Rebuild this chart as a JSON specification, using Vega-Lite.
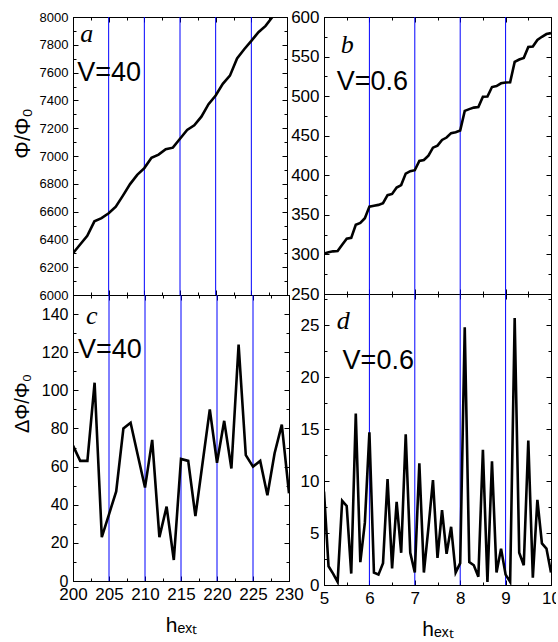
{
  "$schema": "https://vega.github.io/schema/vega-lite/v6.json",
  "autosize": {"type": "pad"},
  "padding": {"left": 10, "top": -2, "right": -5, "bottom": 3},
  "background": "white",
  "config": {
    "view": {"stroke": "black", "strokeWidth": 1},
    "axis": {"grid": false, "domainColor": "black", "domainWidth": 1, "tickColor": "black", "tickWidth": 1, "labelColor": "black", "titleColor": "black", "labelFont": "Liberation Sans", "titleFont": "Liberation Sans", "titleFontWeight": "normal", "labelFlush": false, "labelOverlap": false, "labelBound": false}
  },
  "datasets": {
    "a": [
      {"h": 200, "phi": 6300}, {"h": 201, "phi": 6363}, {"h": 202, "phi": 6426}, {"h": 203, "phi": 6530},
      {"h": 204, "phi": 6553}, {"h": 205, "phi": 6588}, {"h": 206, "phi": 6635}, {"h": 207, "phi": 6715},
      {"h": 208, "phi": 6798}, {"h": 209, "phi": 6864}, {"h": 210, "phi": 6913}, {"h": 211, "phi": 6987},
      {"h": 212, "phi": 7010}, {"h": 213, "phi": 7049}, {"h": 214, "phi": 7060}, {"h": 215, "phi": 7124},
      {"h": 216, "phi": 7187}, {"h": 217, "phi": 7221}, {"h": 218, "phi": 7283}, {"h": 219, "phi": 7373},
      {"h": 220, "phi": 7435}, {"h": 221, "phi": 7519}, {"h": 222, "phi": 7578}, {"h": 223, "phi": 7702},
      {"h": 224, "phi": 7768}, {"h": 225, "phi": 7828}, {"h": 226, "phi": 7891}, {"h": 227, "phi": 7936},
      {"h": 228, "phi": 8003}, {"h": 229, "phi": 8085}, {"h": 230, "phi": 8131}
    ],
    "c": [
      {"h": 200, "d": 71}, {"h": 201, "d": 63}, {"h": 202, "d": 63}, {"h": 203, "d": 104},
      {"h": 204, "d": 23}, {"h": 205, "d": 35}, {"h": 206, "d": 47}, {"h": 207, "d": 80},
      {"h": 208, "d": 83}, {"h": 209, "d": 66}, {"h": 210, "d": 49}, {"h": 211, "d": 74},
      {"h": 212, "d": 23}, {"h": 213, "d": 39}, {"h": 214, "d": 11}, {"h": 215, "d": 64},
      {"h": 216, "d": 63}, {"h": 217, "d": 34}, {"h": 218, "d": 62}, {"h": 219, "d": 90},
      {"h": 220, "d": 62}, {"h": 221, "d": 84}, {"h": 222, "d": 59}, {"h": 223, "d": 124},
      {"h": 224, "d": 66}, {"h": 225, "d": 60}, {"h": 226, "d": 63}, {"h": 227, "d": 45},
      {"h": 228, "d": 67}, {"h": 229, "d": 82}, {"h": 230, "d": 46}
    ],
    "b": [
      {"h": 5.0, "phi": 301.2}, {"h": 5.1, "phi": 302.8}, {"h": 5.2, "phi": 303.9}, {"h": 5.3, "phi": 304.2},
      {"h": 5.4, "phi": 312.3}, {"h": 5.5, "phi": 319.9}, {"h": 5.6, "phi": 321.0}, {"h": 5.7, "phi": 337.5},
      {"h": 5.8, "phi": 339.7}, {"h": 5.9, "phi": 345.7}, {"h": 6.0, "phi": 360.4}, {"h": 6.1, "phi": 361.6},
      {"h": 6.2, "phi": 362.6}, {"h": 6.3, "phi": 364.7}, {"h": 6.4, "phi": 374.9}, {"h": 6.5, "phi": 376.5},
      {"h": 6.6, "phi": 384.5}, {"h": 6.7, "phi": 387.6}, {"h": 6.8, "phi": 402.1}, {"h": 6.9, "phi": 405.2},
      {"h": 7.0, "phi": 406.4}, {"h": 7.1, "phi": 418.1}, {"h": 7.2, "phi": 419.3}, {"h": 7.3, "phi": 424.8},
      {"h": 7.4, "phi": 434.9}, {"h": 7.5, "phi": 437.5}, {"h": 7.6, "phi": 444.7}, {"h": 7.7, "phi": 447.7},
      {"h": 7.8, "phi": 453.3}, {"h": 7.9, "phi": 454.5}, {"h": 8.0, "phi": 456.6}, {"h": 8.1, "phi": 481.4},
      {"h": 8.2, "phi": 483.6}, {"h": 8.3, "phi": 485.5}, {"h": 8.4, "phi": 486.3}, {"h": 8.5, "phi": 499.3},
      {"h": 8.6, "phi": 499.6}, {"h": 8.7, "phi": 511.5}, {"h": 8.8, "phi": 512.7}, {"h": 8.9, "phi": 516.2},
      {"h": 9.0, "phi": 517.2}, {"h": 9.1, "phi": 517.5}, {"h": 9.2, "phi": 543.2}, {"h": 9.3, "phi": 546.3},
      {"h": 9.4, "phi": 548.2}, {"h": 9.5, "phi": 562.1}, {"h": 9.6, "phi": 562.8}, {"h": 9.7, "phi": 571.0},
      {"h": 9.8, "phi": 575.0}, {"h": 9.9, "phi": 578.5}, {"h": 10.0, "phi": 579.7}
    ],
    "d": [
      {"h": 5.0, "d": 9.0}, {"h": 5.1, "d": 1.8}, {"h": 5.2, "d": 1.1}, {"h": 5.3, "d": 0.3},
      {"h": 5.4, "d": 8.1}, {"h": 5.5, "d": 7.6}, {"h": 5.6, "d": 1.1}, {"h": 5.7, "d": 16.5},
      {"h": 5.8, "d": 2.2}, {"h": 5.9, "d": 6.0}, {"h": 6.0, "d": 14.7}, {"h": 6.1, "d": 1.2},
      {"h": 6.2, "d": 1.0}, {"h": 6.3, "d": 2.1}, {"h": 6.4, "d": 10.2}, {"h": 6.5, "d": 1.6},
      {"h": 6.6, "d": 8.0}, {"h": 6.7, "d": 3.1}, {"h": 6.8, "d": 14.5}, {"h": 6.9, "d": 3.1},
      {"h": 7.0, "d": 1.2}, {"h": 7.1, "d": 11.7}, {"h": 7.2, "d": 1.2}, {"h": 7.3, "d": 5.5},
      {"h": 7.4, "d": 10.1}, {"h": 7.5, "d": 2.6}, {"h": 7.6, "d": 7.2}, {"h": 7.7, "d": 3.0},
      {"h": 7.8, "d": 5.6}, {"h": 7.9, "d": 1.2}, {"h": 8.0, "d": 2.1}, {"h": 8.1, "d": 24.8},
      {"h": 8.2, "d": 2.2}, {"h": 8.3, "d": 1.9}, {"h": 8.4, "d": 0.8}, {"h": 8.5, "d": 13.0},
      {"h": 8.6, "d": 0.3}, {"h": 8.7, "d": 11.9}, {"h": 8.8, "d": 1.2}, {"h": 8.9, "d": 3.5},
      {"h": 9.0, "d": 1.0}, {"h": 9.1, "d": 0.3}, {"h": 9.2, "d": 25.7}, {"h": 9.3, "d": 3.1},
      {"h": 9.4, "d": 1.9}, {"h": 9.5, "d": 13.9}, {"h": 9.6, "d": 0.7}, {"h": 9.7, "d": 8.2},
      {"h": 9.8, "d": 4.0}, {"h": 9.9, "d": 3.5}, {"h": 10.0, "d": 1.2}
    ],
    "vlines_left": [{"h": 205}, {"h": 210}, {"h": 215}, {"h": 220}, {"h": 225}],
    "vlines_right": [{"h": 6}, {"h": 7}, {"h": 8}, {"h": 9}],
    "ta_letter": [{"h": 201.0, "phi": 7822, "t": "a"}],
    "ta_v": [{"h": 200.6, "phi": 7540, "t": "V=40"}],
    "tb_letter": [{"h": 5.37, "phi": 555, "t": "b"}],
    "tb_v": [{"h": 5.28, "phi": 507.7, "t": "V=0.6"}],
    "tc_letter": [{"h": 201.8, "d": 135, "t": "c"}],
    "tc_v": [{"h": 200.7, "d": 117, "t": "V=40"}],
    "td_letter": [{"h": 5.28, "d": 24.6, "t": "d"}],
    "td_v": [{"h": 5.41, "d": 20.8, "t": "V=0.6"}]
  },
  "bounds": "full",
  "spacing": -14,
  "hconcat": [
    {
      "bounds": "flush",
      "spacing": 0,
      "vconcat": [
        {
          "width": 214,
          "height": 278,
          "resolve": {"axis": {"x": "independent", "y": "independent"}},
          "layer": [
            {
              "data": {"name": "vlines_left"},
              "mark": {"type": "rule", "color": "#0000ff", "strokeWidth": 1},
              "encoding": {"x": {"field": "h", "type": "quantitative", "scale": {"domain": [200, 230], "nice": false, "zero": false}, "axis": null}}
            },
            {
              "data": {"name": "a"},
              "mark": {"type": "line", "color": "black", "strokeWidth": 2.6, "clip": true},
              "encoding": {
                "x": {"field": "h", "type": "quantitative", "scale": {"domain": [200, 230], "nice": false, "zero": false},
                  "axis": {"orient": "bottom", "title": null, "labels": false, "values": [200, 202.5, 205, 207.5, 210, 212.5, 215, 217.5, 220, 222.5, 225, 227.5, 230], "tickSize": {"condition": {"test": "datum.value % 5 === 0", "value": -5}, "value": -3}}},
                "y": {"field": "phi", "type": "quantitative", "scale": {"domain": [6000, 8000], "nice": false, "zero": false},
                  "axis": {"orient": "left", "title": "Φ/Φ₀", "titleFontSize": 22, "titleAngle": -90, "titleX": -51, "titleY": 116, "titleBaseline": "middle", "titleAlign": "center",
                    "values": [6000, 6100, 6200, 6300, 6400, 6500, 6600, 6700, 6800, 6900, 7000, 7100, 7200, 7300, 7400, 7500, 7600, 7700, 7800, 7900, 8000],
                    "labelExpr": "datum.value % 200 === 0 ? datum.value + '' : ''", "labelFontSize": 13, "labelPadding": 10,
                    "tickSize": {"condition": {"test": "datum.value % 200 === 0", "value": -5}, "value": -3}}}
              }
            },
            {
              "data": {"name": "a"},
              "mark": {"type": "line", "opacity": 0},
              "encoding": {
                "x": {"field": "h", "type": "quantitative", "scale": {"domain": [200, 230], "nice": false, "zero": false},
                  "axis": {"orient": "top", "title": null, "labels": false, "values": [200, 202.5, 205, 207.5, 210, 212.5, 215, 217.5, 220, 222.5, 225, 227.5, 230], "tickSize": {"condition": {"test": "datum.value % 5 === 0", "value": -5}, "value": -3}}},
                "y": {"field": "phi", "type": "quantitative", "scale": {"domain": [6000, 8000], "nice": false, "zero": false},
                  "axis": {"orient": "right", "title": null, "labels": false,
                    "values": [6000, 6100, 6200, 6300, 6400, 6500, 6600, 6700, 6800, 6900, 7000, 7100, 7200, 7300, 7400, 7500, 7600, 7700, 7800, 7900, 8000],
                    "tickSize": {"condition": {"test": "datum.value % 200 === 0", "value": -5}, "value": -3}}}
              }
            },
            {
              "data": {"name": "ta_letter"},
              "mark": {"type": "text", "font": "Liberation Serif", "fontStyle": "italic", "fontSize": 26, "align": "left", "baseline": "alphabetic", "color": "black"},
              "encoding": {
                "x": {"field": "h", "type": "quantitative", "scale": {"domain": [200, 230], "nice": false, "zero": false}, "axis": null},
                "y": {"field": "phi", "type": "quantitative", "scale": {"domain": [6000, 8000], "nice": false, "zero": false}, "axis": null},
                "text": {"field": "t"}
              }
            },
            {
              "data": {"name": "ta_v"},
              "mark": {"type": "text", "font": "Liberation Sans", "fontSize": 27, "align": "left", "baseline": "alphabetic", "color": "black"},
              "encoding": {
                "x": {"field": "h", "type": "quantitative", "scale": {"domain": [200, 230], "nice": false, "zero": false}, "axis": null},
                "y": {"field": "phi", "type": "quantitative", "scale": {"domain": [6000, 8000], "nice": false, "zero": false}, "axis": null},
                "text": {"field": "t"}
              }
            }
          ]
        },
        {
          "width": 216,
          "height": 286,
          "resolve": {"axis": {"x": "independent", "y": "independent"}},
          "layer": [
            {
              "data": {"name": "vlines_left"},
              "mark": {"type": "rule", "color": "#0000ff", "strokeWidth": 1},
              "encoding": {"x": {"field": "h", "type": "quantitative", "scale": {"domain": [200, 230], "nice": false, "zero": false}, "axis": null}}
            },
            {
              "data": {"name": "c"},
              "mark": {"type": "line", "color": "black", "strokeWidth": 2.6, "clip": true},
              "encoding": {
                "x": {"field": "h", "type": "quantitative", "scale": {"domain": [200, 230], "nice": false, "zero": false},
                  "axis": {"orient": "bottom", "title": "hₑₓₜ", "titleFontSize": 21, "titleY": 50, "titleBaseline": "alphabetic",
                    "values": [200, 202.5, 205, 207.5, 210, 212.5, 215, 217.5, 220, 222.5, 225, 227.5, 230],
                    "labelExpr": "datum.value % 5 === 0 ? datum.value + '' : ''", "labelFontSize": 17, "labelPadding": 10,
                    "tickSize": {"condition": {"test": "datum.value % 5 === 0", "value": -5}, "value": -3}}},
                "y": {"field": "d", "type": "quantitative", "scale": {"domain": [0, 150], "nice": false, "zero": false},
                  "axis": {"orient": "left", "title": "ΔΦ/Φ₀", "titleFontSize": 20, "titleAngle": -90, "titleX": -51, "titleY": 108, "titleBaseline": "middle", "titleAlign": "center",
                    "values": [0, 10, 20, 30, 40, 50, 60, 70, 80, 90, 100, 110, 120, 130, 140, 150],
                    "labelExpr": "datum.value % 20 === 0 ? datum.value + '' : ''", "labelFontSize": 16, "labelPadding": 10,
                    "tickSize": {"condition": {"test": "datum.value % 20 === 0", "value": -5}, "value": -3}}}
              }
            },
            {
              "data": {"name": "c"},
              "mark": {"type": "line", "opacity": 0},
              "encoding": {
                "x": {"field": "h", "type": "quantitative", "scale": {"domain": [200, 230], "nice": false, "zero": false},
                  "axis": {"orient": "top", "title": null, "labels": false, "values": [200, 202.5, 205, 207.5, 210, 212.5, 215, 217.5, 220, 222.5, 225, 227.5, 230], "tickSize": {"condition": {"test": "datum.value % 5 === 0", "value": -5}, "value": -3}}},
                "y": {"field": "d", "type": "quantitative", "scale": {"domain": [0, 150], "nice": false, "zero": false},
                  "axis": {"orient": "right", "title": null, "labels": false,
                    "values": [0, 10, 20, 30, 40, 50, 60, 70, 80, 90, 100, 110, 120, 130, 140, 150],
                    "tickSize": {"condition": {"test": "datum.value % 20 === 0", "value": -5}, "value": -3}}}
              }
            },
            {
              "data": {"name": "tc_letter"},
              "mark": {"type": "text", "font": "Liberation Serif", "fontStyle": "italic", "fontSize": 26, "align": "left", "baseline": "alphabetic", "color": "black"},
              "encoding": {
                "x": {"field": "h", "type": "quantitative", "scale": {"domain": [200, 230], "nice": false, "zero": false}, "axis": null},
                "y": {"field": "d", "type": "quantitative", "scale": {"domain": [0, 150], "nice": false, "zero": false}, "axis": null},
                "text": {"field": "t"}
              }
            },
            {
              "data": {"name": "tc_v"},
              "mark": {"type": "text", "font": "Liberation Sans", "fontSize": 27, "align": "left", "baseline": "alphabetic", "color": "black"},
              "encoding": {
                "x": {"field": "h", "type": "quantitative", "scale": {"domain": [200, 230], "nice": false, "zero": false}, "axis": null},
                "y": {"field": "d", "type": "quantitative", "scale": {"domain": [0, 150], "nice": false, "zero": false}, "axis": null},
                "text": {"field": "t"}
              }
            }
          ]
        }
      ]
    },
    {
      "bounds": "flush",
      "spacing": 0,
      "vconcat": [
        {
          "width": 227,
          "height": 277,
          "resolve": {"axis": {"x": "independent", "y": "independent"}},
          "layer": [
            {
              "data": {"name": "vlines_right"},
              "mark": {"type": "rule", "color": "#0000ff", "strokeWidth": 1},
              "encoding": {"x": {"field": "h", "type": "quantitative", "scale": {"domain": [5, 10], "nice": false, "zero": false}, "axis": null}}
            },
            {
              "data": {"name": "b"},
              "mark": {"type": "line", "color": "black", "strokeWidth": 2.6, "clip": true},
              "encoding": {
                "x": {"field": "h", "type": "quantitative", "scale": {"domain": [5, 10], "nice": false, "zero": false},
                  "axis": {"orient": "bottom", "title": null, "labels": false, "values": [5, 5.5, 6, 6.5, 7, 7.5, 8, 8.5, 9, 9.5, 10], "tickSize": {"condition": {"test": "datum.value % 1 === 0", "value": -5}, "value": -3}}},
                "y": {"field": "phi", "type": "quantitative", "scale": {"domain": [250, 600], "nice": false, "zero": false},
                  "axis": {"orient": "left", "title": null,
                    "values": [250, 275, 300, 325, 350, 375, 400, 425, 450, 475, 500, 525, 550, 575, 600],
                    "labelExpr": "datum.value % 50 === 0 ? datum.value + '' : ''", "labelFontSize": 17, "labelPadding": 10,
                    "tickSize": {"condition": {"test": "datum.value % 50 === 0", "value": -5}, "value": -3}}}
              }
            },
            {
              "data": {"name": "b"},
              "mark": {"type": "line", "opacity": 0},
              "encoding": {
                "x": {"field": "h", "type": "quantitative", "scale": {"domain": [5, 10], "nice": false, "zero": false},
                  "axis": {"orient": "top", "title": null, "labels": false, "values": [5, 5.5, 6, 6.5, 7, 7.5, 8, 8.5, 9, 9.5, 10], "tickSize": {"condition": {"test": "datum.value % 1 === 0", "value": -5}, "value": -3}}},
                "y": {"field": "phi", "type": "quantitative", "scale": {"domain": [250, 600], "nice": false, "zero": false},
                  "axis": {"orient": "right", "title": null, "labels": false,
                    "values": [250, 275, 300, 325, 350, 375, 400, 425, 450, 475, 500, 525, 550, 575, 600],
                    "tickSize": {"condition": {"test": "datum.value % 50 === 0", "value": -5}, "value": -3}}}
              }
            },
            {
              "data": {"name": "tb_letter"},
              "mark": {"type": "text", "font": "Liberation Serif", "fontStyle": "italic", "fontSize": 26, "align": "left", "baseline": "alphabetic", "color": "black"},
              "encoding": {
                "x": {"field": "h", "type": "quantitative", "scale": {"domain": [5, 10], "nice": false, "zero": false}, "axis": null},
                "y": {"field": "phi", "type": "quantitative", "scale": {"domain": [250, 600], "nice": false, "zero": false}, "axis": null},
                "text": {"field": "t"}
              }
            },
            {
              "data": {"name": "tb_v"},
              "mark": {"type": "text", "font": "Liberation Sans", "fontSize": 27, "align": "left", "baseline": "alphabetic", "color": "black"},
              "encoding": {
                "x": {"field": "h", "type": "quantitative", "scale": {"domain": [5, 10], "nice": false, "zero": false}, "axis": null},
                "y": {"field": "phi", "type": "quantitative", "scale": {"domain": [250, 600], "nice": false, "zero": false}, "axis": null},
                "text": {"field": "t"}
              }
            }
          ]
        },
        {
          "width": 227,
          "height": 291,
          "resolve": {"axis": {"x": "independent", "y": "independent"}},
          "layer": [
            {
              "data": {"name": "vlines_right"},
              "mark": {"type": "rule", "color": "#0000ff", "strokeWidth": 1},
              "encoding": {"x": {"field": "h", "type": "quantitative", "scale": {"domain": [5, 10], "nice": false, "zero": false}, "axis": null}}
            },
            {
              "data": {"name": "d"},
              "mark": {"type": "line", "color": "black", "strokeWidth": 2.6, "clip": true},
              "encoding": {
                "x": {"field": "h", "type": "quantitative", "scale": {"domain": [5, 10], "nice": false, "zero": false},
                  "axis": {"orient": "bottom", "title": "hₑₓₜ", "titleFontSize": 21, "titleY": 50, "titleBaseline": "alphabetic",
                    "values": [5, 5.5, 6, 6.5, 7, 7.5, 8, 8.5, 9, 9.5, 10],
                    "labelExpr": "datum.value % 1 === 0 ? datum.value + '' : ''", "labelFontSize": 17, "labelPadding": 10,
                    "tickSize": {"condition": {"test": "datum.value % 1 === 0", "value": -5}, "value": -3}}},
                "y": {"field": "d", "type": "quantitative", "scale": {"domain": [0, 28], "nice": false, "zero": false},
                  "axis": {"orient": "left", "title": null,
                    "values": [0, 2.5, 5, 7.5, 10, 12.5, 15, 17.5, 20, 22.5, 25, 27.5],
                    "labelExpr": "datum.value % 5 === 0 ? datum.value + '' : ''", "labelFontSize": 17, "labelPadding": 10,
                    "tickSize": {"condition": {"test": "datum.value % 5 === 0", "value": -5}, "value": -3}}}
              }
            },
            {
              "data": {"name": "d"},
              "mark": {"type": "line", "opacity": 0},
              "encoding": {
                "x": {"field": "h", "type": "quantitative", "scale": {"domain": [5, 10], "nice": false, "zero": false},
                  "axis": {"orient": "top", "title": null, "labels": false, "values": [5, 5.5, 6, 6.5, 7, 7.5, 8, 8.5, 9, 9.5, 10], "tickSize": {"condition": {"test": "datum.value % 1 === 0", "value": -5}, "value": -3}}},
                "y": {"field": "d", "type": "quantitative", "scale": {"domain": [0, 28], "nice": false, "zero": false},
                  "axis": {"orient": "right", "title": null, "labels": false,
                    "values": [0, 2.5, 5, 7.5, 10, 12.5, 15, 17.5, 20, 22.5, 25, 27.5],
                    "tickSize": {"condition": {"test": "datum.value % 5 === 0", "value": -5}, "value": -3}}}
              }
            },
            {
              "data": {"name": "td_letter"},
              "mark": {"type": "text", "font": "Liberation Serif", "fontStyle": "italic", "fontSize": 26, "align": "left", "baseline": "alphabetic", "color": "black"},
              "encoding": {
                "x": {"field": "h", "type": "quantitative", "scale": {"domain": [5, 10], "nice": false, "zero": false}, "axis": null},
                "y": {"field": "d", "type": "quantitative", "scale": {"domain": [0, 28], "nice": false, "zero": false}, "axis": null},
                "text": {"field": "t"}
              }
            },
            {
              "data": {"name": "td_v"},
              "mark": {"type": "text", "font": "Liberation Sans", "fontSize": 27, "align": "left", "baseline": "alphabetic", "color": "black"},
              "encoding": {
                "x": {"field": "h", "type": "quantitative", "scale": {"domain": [5, 10], "nice": false, "zero": false}, "axis": null},
                "y": {"field": "d", "type": "quantitative", "scale": {"domain": [0, 28], "nice": false, "zero": false}, "axis": null},
                "text": {"field": "t"}
              }
            }
          ]
        }
      ]
    }
  ]
}
